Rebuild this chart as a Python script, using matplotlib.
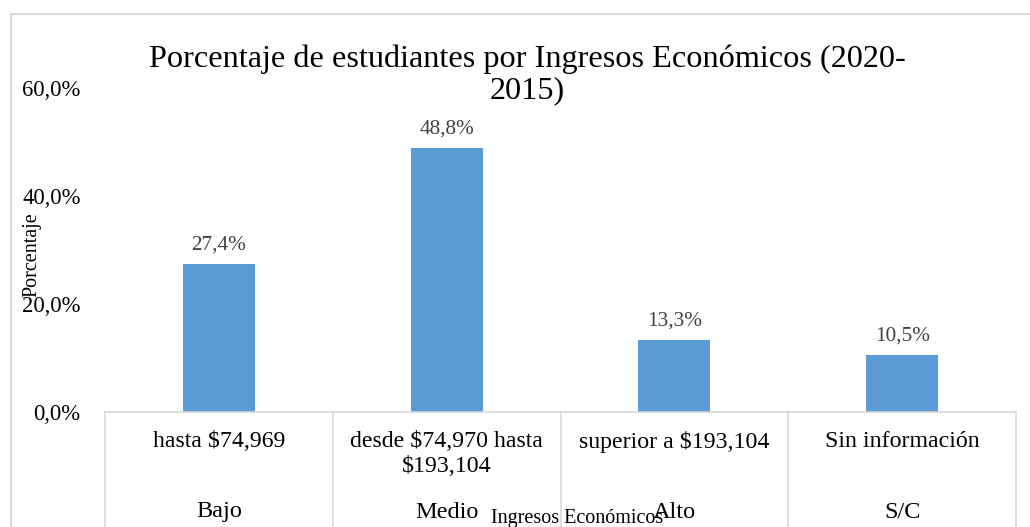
import matplotlib
matplotlib.use("Agg")
import matplotlib.pyplot as plt
from matplotlib.patches import Rectangle
import matplotlib.transforms as mtransforms

categories_outer = ["Bajo", "Medio", "Alto", "S/C"]
categories_inner = ["hasta $74,969", "desde $74,970 hasta\n$193,104", "superior a $193,104", "Sin información"]
values = [27.4, 48.8, 13.3, 10.5]
value_labels = ["27,4%", "48,8%", "13,3%", "10,5%"]
yticks = [0, 20, 40, 60]
ytick_labels = ["0,0%", "20,0%", "40,0%", "60,0%"]
title = "Porcentaje de estudiantes por Ingresos Económicos (2020-\n2015)"

plt.rcParams['font.family'] = ['Liberation Serif', 'DejaVu Serif']

W, H = 1030, 527
fig = plt.figure(figsize=(W / 100, H / 100), dpi=100)
ax = fig.add_axes([105 / W, (H - 412) / H, (1016 - 105) / W, (412 - 88) / H])

bar_color = "#5B9BD5"
x = list(range(len(values)))
ax.bar(x, values, width=0.317, color=bar_color, zorder=2)
for xi, v, lab in zip(x, values, value_labels):
    ax.annotate(lab, (xi, v), xytext=(0, 7), textcoords="offset points",
                ha="center", va="bottom", fontsize=15.3, color="#404040")

ax.set_xlim(-0.5, len(values) - 0.5)
ax.set_ylim(0, 60)
ax.set_yticks(yticks)
ax.set_yticklabels(ytick_labels, fontsize=16.3, color="#000000")
ax.tick_params(axis="y", length=0, pad=17.5)
ax.set_xticks([])
for s in ["left", "right", "top"]:
    ax.spines[s].set_visible(False)
ax.spines["bottom"].set_color("#D9D9D9")
ax.spines["bottom"].set_linewidth(1.2)

# multi-level category table
trans = mtransforms.blended_transform_factory(ax.transData, fig.transFigure)
for b in [i - 0.5 for i in range(len(values) + 1)]:
    ax.plot([b, b], [(H - 412) / H, -0.05], transform=trans, color="#D9D9D9",
            lw=1.2, clip_on=False)
for xi, inner, outer in zip(x, categories_inner, categories_outer):
    ax.text(xi, (H - 431) / H, inner, transform=trans, ha="center", va="top",
            fontsize=17.2, linespacing=1.25)
    ax.text(xi, (H - 512) / H, outer, transform=trans, ha="center", va="center",
            fontsize=17.5)

fig.text(527 / W, (H - 75) / H, title, ha="center", va="center", fontsize=23.2,
         linespacing=1.08)
fig.text(32 / W, (H - 255) / H, "Porcentaje", rotation=90, ha="center",
         va="center", fontsize=14.5)
fig.text(577 / W, (H - 519) / H, "Ingresos Económicos", ha="center",
         va="center", fontsize=14.5)

# chart border
fig.patches.append(Rectangle((10.5 / W, -0.1), 1.2, (H - 14) / H + 0.1,
                             transform=fig.transFigure, fill=False,
                             edgecolor="#D9D9D9", lw=1.5))

fig.savefig("out.png", dpi=100)
